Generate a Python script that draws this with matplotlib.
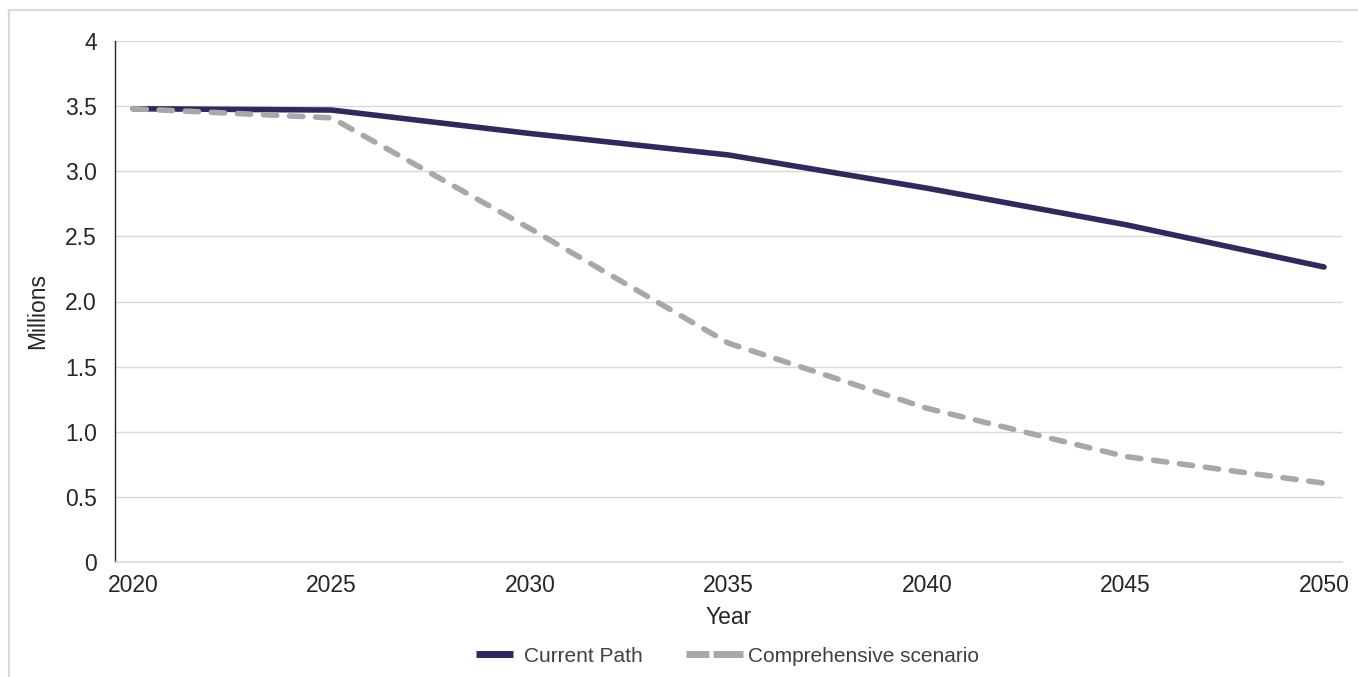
import matplotlib
matplotlib.use("Agg")
import matplotlib.pyplot as plt
from matplotlib.lines import Line2D

years = [2020, 2025, 2030, 2035, 2040, 2045, 2050]
current_path = [3.48, 3.47, 3.29, 3.125, 2.87, 2.59, 2.265]
comprehensive = [3.48, 3.41, 2.56, 1.68, 1.18, 0.81, 0.605]
y_ticks = [0, 0.5, 1.0, 1.5, 2.0, 2.5, 3.0, 3.5, 4]
y_tick_labels = ["0", "0.5", "1.0", "1.5", "2.0", "2.5", "3.0", "3.5", "4"]
series_names = ["Current Path", "Comprehensive scenario"]

plt.rcParams['font.family'] = ['Liberation Sans', 'DejaVu Sans']
W, H = 1358, 677
fig = plt.figure(figsize=(W / 100, H / 100), dpi=100)
fig.patch.set_facecolor("white")

# outer light border (top and left)
fig.add_artist(Line2D([9 / W, 1.0], [1 - 10 / H, 1 - 10 / H], color="#d9d9d9", lw=1.6, transform=fig.transFigure))
fig.add_artist(Line2D([9 / W, 9 / W], [1 - 10 / H, 0], color="#d9d9d9", lw=1.6, transform=fig.transFigure))

left, right, top, bottom = 115, 1342, 41, 562
ax = fig.add_axes([left / W, 1 - bottom / H, (right - left) / W, (bottom - top) / H])

navy = "#2c2a5f"
grey = "#a8a8a8"
txt = "#262626"
fs = 16.5
ax.plot(years, current_path, color=navy, lw=4.0, solid_capstyle="round", solid_joinstyle="round", label=series_names[0])
ax.plot(years, comprehensive, color=grey, lw=4.0, dashes=(2.4, 2.3), dash_capstyle="round", dash_joinstyle="round", label=series_names[1])

pad = 18 / ((1323 - 133) / 30)
ax.set_xlim(years[0] - pad, years[-1] + pad)
ax.set_ylim(0, 4)
ax.set_xticks(years)
ax.set_xticklabels([str(y) for y in years])
ax.set_yticks(y_ticks)
ax.set_yticklabels(y_tick_labels)
ax.grid(axis="y", color="#d9d9d9", lw=1.0)
ax.set_axisbelow(True)
for s in ["top", "right"]:
    ax.spines[s].set_visible(False)
ax.spines["left"].set_color(txt)
ax.spines["left"].set_linewidth(1.0)
ax.spines["bottom"].set_color("#d9d9d9")
ax.spines["bottom"].set_linewidth(1.2)
ax.tick_params(axis="both", length=0, labelsize=fs, colors=txt)
ax.tick_params(axis="x", pad=9)
ax.tick_params(axis="y", pad=13)

ax.set_xlabel("Year", fontsize=fs, color=txt, labelpad=6)
fig.text(38 / W, 1 - 311 / H, "Millions", rotation=90, ha="center", va="center", fontsize=fs, color=txt)

lfs = 15
em = lfs * 100 / 72
h1 = Line2D([], [], color=navy, lw=5, solid_capstyle="butt")
h2 = Line2D([], [], color=grey, lw=5, dashes=(3.3, 0.6, 4.35, 1.0), dash_capstyle="butt")
leg1 = fig.legend([h1], [series_names[0]], loc="center left", bbox_to_anchor=(476 / W, 1 - 656 / H),
                  frameon=False, fontsize=lfs, handlelength=37 / em, handletextpad=11 / em,
                  borderpad=0, borderaxespad=0, labelcolor="#404040")
leg2 = fig.legend([h2], [series_names[1]], loc="center left", bbox_to_anchor=(686 / W, 1 - 656 / H),
                  frameon=False, fontsize=lfs, handlelength=57 / em, handletextpad=5 / em,
                  borderpad=0, borderaxespad=0, labelcolor="#404040")

fig.savefig("out.png", dpi=100, facecolor="white")
